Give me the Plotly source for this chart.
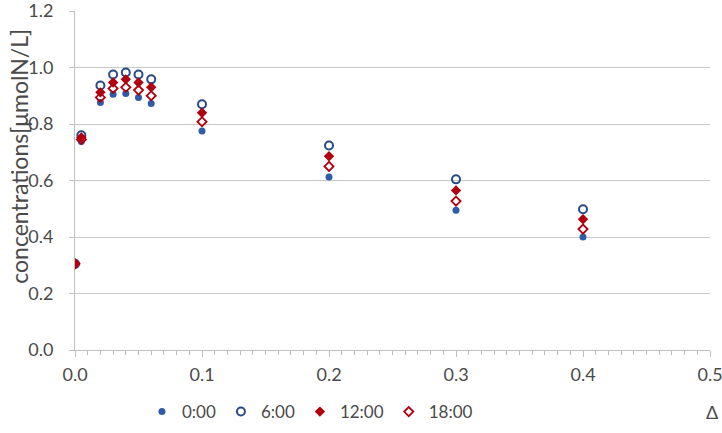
import plotly.graph_objects as go

x = [0.0, 0.005, 0.02, 0.03, 0.04, 0.05, 0.06, 0.1, 0.2, 0.3, 0.4]
s_0000 = [0.305, 0.738, 0.876, 0.905, 0.908, 0.894, 0.873, 0.775, 0.612, 0.495, 0.400]
s_0600 = [0.305, 0.760, 0.936, 0.975, 0.982, 0.975, 0.958, 0.870, 0.724, 0.604, 0.498]
s_1200 = [0.305, 0.752, 0.912, 0.947, 0.958, 0.947, 0.930, 0.840, 0.686, 0.565, 0.463]
s_1800 = [0.305, 0.745, 0.894, 0.926, 0.930, 0.920, 0.900, 0.808, 0.650, 0.527, 0.428]
names = ["0:00", "6:00", "12:00", "18:00"]
x_ticks = [0, 0.1, 0.2, 0.3, 0.4, 0.5]
y_ticks = [0, 0.2, 0.4, 0.6, 0.8, 1.0, 1.2]

BLUE = "#2F5BA8"
NAVY = "#2A4A86"
RED = "#B00010"
GRAY_TXT = "#4A4A4A"
AXIS = "#BFBFBF"
FONT = "Lato, Open Sans, sans-serif"

fig = go.Figure()
fig.add_trace(go.Scatter(x=x, y=s_0000, mode="markers", name=names[0],
                         marker=dict(symbol="circle", size=7, color=BLUE)))
fig.add_trace(go.Scatter(x=x, y=s_0600, mode="markers", name=names[1],
                         marker=dict(symbol="circle-open", size=8, color=NAVY, line=dict(width=2))))
fig.add_trace(go.Scatter(x=x, y=s_1200, mode="markers", name=names[2],
                         marker=dict(symbol="diamond", size=8, color=RED)))
fig.add_trace(go.Scatter(x=x, y=s_1800, mode="markers", name=names[3],
                         marker=dict(symbol="diamond-open", size=7, color=RED, line=dict(width=1.8))))

fig.update_layout(
    width=722, height=433,
    margin=dict(l=75, r=12, t=11, b=83, autoexpand=False),
    paper_bgcolor="white", plot_bgcolor="white",
    font=dict(family=FONT, size=18, color=GRAY_TXT),
    showlegend=True,
    legend=dict(orientation="h", x=0.37, xanchor="center", y=-0.183, yanchor="middle",
                font=dict(size=17, color=GRAY_TXT), itemwidth=30, tracegroupgap=0),
    xaxis=dict(range=[0, 0.5], tickvals=x_ticks, tickformat=".1f",
               showgrid=False, zeroline=False, showline=True, linecolor=AXIS, linewidth=1,
               ticks="outside", ticklen=6, tickcolor=AXIS, ticklabelstandoff=2,
               ticklabeloverflow="allow",
               minor=dict(dtick=0.01, tick0=0, ticks="outside", ticklen=4, tickcolor=AXIS, showgrid=False)),
    xaxis2=dict(range=[0, 0.5], overlaying="x", anchor="y", side="bottom", tickvals=x_ticks,
                showticklabels=False, showgrid=False, zeroline=False, showline=False,
                ticks="inside", ticklen=6, tickcolor=AXIS),
    yaxis=dict(range=[0, 1.2], tickvals=y_ticks, tickformat=".1f",
               showgrid=True, gridcolor="#C8C8C8", gridwidth=1, zeroline=False,
               showline=True, linecolor=AXIS, linewidth=1,
               ticks="outside", ticklen=5, tickcolor=AXIS, ticklabelstandoff=12,
               ticklabeloverflow="allow"),
)
fig.add_annotation(text="concentrations[μmolN/L]", textangle=-90, xref="paper", yref="paper",
                   x=(19 - 75) / 635, y=0.57, xanchor="center", yanchor="middle",
                   showarrow=False, font=dict(size=23, color=GRAY_TXT))
fig.add_annotation(text="Δ", xref="paper", yref="paper", x=1.003, y=-0.183,
                   xanchor="center", yanchor="middle",
                   showarrow=False, font=dict(size=18, color=GRAY_TXT))

fig.write_html("out.html")
